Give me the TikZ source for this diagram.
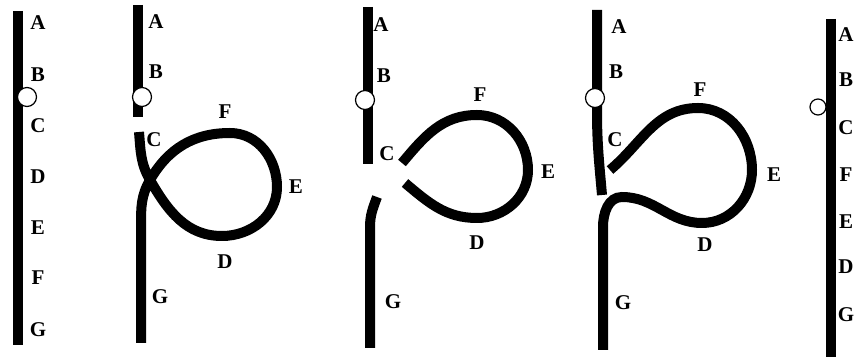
\documentclass[tikz,border=0pt]{standalone}
\usepackage{fontspec}
\setmainfont{Liberation Serif}
\begin{document}
\begin{tikzpicture}[x=1pt,y=1pt,
  rope/.style={line width=10pt},
  ring/.style={circle,draw,fill=white,line width=1.2pt,inner sep=0pt,minimum size=#1},
  ring/.default=19pt,
  lbl/.style={inner sep=0pt,font=\fontsize{21}{21}\selectfont\bfseries}]
\useasboundingbox (0,0) rectangle (855,361);
% ---- panel 1
\coordinate (p1t) at (18,350); \coordinate (p1b) at (18,16);
\draw[rope] (p1t) -- (p1b);
\node[ring] (r1) at (27,264) {};
\foreach \n/\y in {A/338,B/286,C/235,D/184,E/133,F/83,G/31}
  \node[lbl] (l1\n) at (38,\y) {\n};
% ---- panel 2
\coordinate (p2t) at (138,356); \coordinate (p2b) at (138,244);
\draw[rope] (p2t) -- (p2b);
\node[ring] (r2) at (142,264) {};
\coordinate (p2s) at (139,229); \coordinate (p2x) at (150,181);
\coordinate (p2d) at (222,125); \coordinate (p2e) at (277,174);
\coordinate (p2f) at (230,228); \coordinate (p2g) at (141,136);
\coordinate (p2z) at (141,18);
\draw[rope] (p2s) to[out=-85,in=120] (p2x) to[out=-60,in=180] (p2d)
  to[out=0,in=-90] (p2e) to[out=90,in=0] (p2f) to[out=180,in=60] (p2x)
  to[out=-120,in=90] (p2g) -- (p2z);
\foreach \n/\x/\y in {A/156/339,B/156/289,C/154/221,F/225/249,E/296/174,D/225/99,G/160/64}
  \node[lbl] (l2\n) at (\x,\y) {\n};
% ---- panel 3
\coordinate (p3t) at (368,354); \coordinate (p3b) at (368,197);
\draw[rope] (p3t) -- (p3b);
\node[ring] (r3) at (365,261) {};
\coordinate (p3u) at (402,198); \coordinate (p3f) at (477,246);
\coordinate (p3e) at (528,191); \coordinate (p3d) at (477,143);
\coordinate (p3l) at (405,178);
\draw[rope] (p3u) to[out=50,in=180] (p3f) to[out=0,in=90] (p3e)
  to[out=-90,in=0] (p3d) to[out=180,in=-40] (p3l);
\coordinate (p3s) at (377,164); \coordinate (p3g) at (370,134); \coordinate (p3z) at (370,13);
\draw[rope] (p3s) to[out=-110,in=90] (p3g) -- (p3z);
\foreach \n/\x/\y in {A/381/336,B/384/285,F/480/266,C/387/207,E/548/189,D/477/118,G/393/59}
  \node[lbl] (l3\n) at (\x,\y) {\n};
% ---- panel 4
\coordinate (p4t) at (597,351); \coordinate (p4m) at (597,250); \coordinate (p4b) at (602,166);
\draw[rope] (p4t) -- (p4m) to[out=-90,in=95] (p4b);
\node[ring] (r4) at (595,263) {};
\coordinate (p4s) at (610,191); \coordinate (p4f) at (698,253);
\coordinate (p4e) at (752,191); \coordinate (p4d) at (702,138);
\coordinate (p4h) at (622,164); \coordinate (p4g) at (603,134); \coordinate (p4z) at (603,11);
\draw[rope] (p4s) to[out=40,in=180] (p4f) to[out=0,in=90] (p4e)
  to[out=-90,in=0] (p4d) to[out=180,in=0] (p4h) to[out=180,in=90] (p4g) -- (p4z);
\foreach \n/\x/\y in {A/619/334,B/616/289,F/700/271,C/615/221,E/774/186,D/705/116,G/623/58}
  \node[lbl] (l4\n) at (\x,\y) {\n};
% ---- panel 5
\coordinate (p5t) at (831,342); \coordinate (p5b) at (831,4);
\draw[rope] (p5t) -- (p5b);
\node[ring=16pt] (r5) at (818,254) {};
\foreach \n/\y in {A/326,B/281,C/233,F/186,E/139,D/94,G/46}
  \node[lbl] (l5\n) at (846,\y) {\n};
\end{tikzpicture}
\end{document}
